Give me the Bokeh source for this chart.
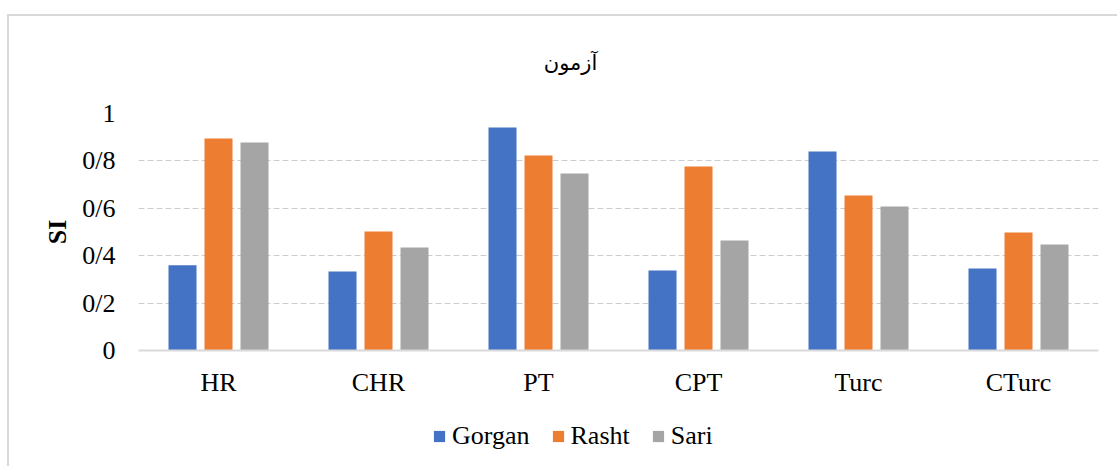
from bokeh.plotting import figure
from bokeh.layouts import column
from bokeh.models import ColumnDataSource, FactorRange, Range1d, Legend, LegendItem, Label, FixedTicker, CustomJSTickFormatter
from bokeh.transform import dodge
from bokeh.embed import file_html
from bokeh.resources import INLINE

categories = ["HR", "CHR", "PT", "CPT", "Turc", "CTurc"]
gorgan = [0.36, 0.333, 0.941, 0.338, 0.84, 0.346]
rasht = [0.895, 0.502, 0.823, 0.776, 0.654, 0.498]
sari = [0.878, 0.435, 0.747, 0.464, 0.608, 0.447]
series_names = ["Gorgan", "Rasht", "Sari"]
colors = ["#4472C4", "#ED7D31", "#A5A5A5"]
y_ticks = [0, 0.2, 0.4, 0.6, 0.8, 1]
title_text = "آزمون"
y_label = "SI"


def strip(height):
    f = figure(width=1108, height=height, output_backend="svg", toolbar_location=None,
               x_range=Range1d(0, 1), y_range=Range1d(0, 1),
               min_border_left=0, min_border_right=0, min_border_top=0, min_border_bottom=0)
    f.axis.visible = False
    f.grid.visible = False
    f.outline_line_color = None
    f.background_fill_color = "white"
    f.border_fill_color = "white"
    return f


# title strip
tp = strip(77)
tp.add_layout(Label(x=0.45, y=0.40, text=title_text, text_font="DejaVu Sans",
                    text_font_size="21px", text_color="black", text_align="center",
                    text_baseline="middle"))

# main chart
src = ColumnDataSource(dict(cat=categories, Gorgan=gorgan, Rasht=rasht, Sari=sari))
p = figure(x_range=FactorRange(*categories, range_padding=0), y_range=Range1d(0, 1),
           width=1108, height=323, output_backend="svg", toolbar_location=None,
           min_border_left=129, min_border_right=19, min_border_top=20, min_border_bottom=66)
p.outline_line_color = None
p.background_fill_color = "white"
p.border_fill_color = "white"

offsets = [-0.225, 0.0, 0.225]
for name, col, off in zip(series_names, colors, offsets):
    p.vbar(x=dodge("cat", off, range=p.x_range), top=name, width=0.175, source=src,
           fill_color=col, line_color=None)

p.xaxis.axis_line_color = "#d9d9d9"
p.xaxis.axis_line_width = 2
p.xaxis.major_tick_line_color = None
p.xaxis.minor_tick_line_color = None
p.xaxis.major_label_text_font = "Liberation Serif"
p.xaxis.major_label_text_font_size = "26px"
p.xaxis.major_label_text_color = "black"
p.xaxis.major_label_standoff = 11

p.yaxis.axis_line_color = None
p.yaxis.major_tick_line_color = None
p.yaxis.minor_tick_line_color = None
p.yaxis.ticker = FixedTicker(ticks=y_ticks)
p.yaxis.formatter = CustomJSTickFormatter(code="return (Math.round(tick*10)/10).toString().replace('.', '/');")
p.yaxis.major_label_text_font = "Liberation Serif"
p.yaxis.major_label_text_font_size = "26px"
p.yaxis.major_label_text_color = "black"
p.yaxis.major_label_standoff = 17
p.yaxis.axis_label = y_label
p.yaxis.axis_label_text_font = "Liberation Serif"
p.yaxis.axis_label_text_font_size = "26px"
p.yaxis.axis_label_text_font_style = "bold"
p.yaxis.axis_label_text_color = "black"
p.yaxis.axis_label_standoff = 7

p.xgrid.grid_line_color = None
p.ygrid.grid_line_color = "#cccccc"
p.ygrid.grid_line_dash = "6 3"
p.ygrid.grid_line_width = 1.2

# legend strip
lg = strip(50)
items = []
for name, col in zip(series_names, colors):
    r = lg.vbar(x=[0], top=[0], bottom=[0], width=0.001, fill_color=col, line_color=None)
    items.append(LegendItem(label=name, renderers=[r]))
legend = Legend(items=items, orientation="horizontal", location=(294, 15),
                label_text_font="Liberation Serif", label_text_font_size="26px",
                label_text_color="black",
                glyph_width=14, glyph_height=14, spacing=21, padding=0, margin=0,
                label_standoff=6, border_line_color=None, background_fill_alpha=0)
lg.add_layout(legend, "center")

layout = column(tp, p, lg, spacing=0)
layout.styles = {"margin-left": "7px", "margin-top": "14px",
                 "border-left": "2px solid #d9d9d9", "border-top": "2px solid #d9d9d9"}

open("out.html", "w").write(file_html(layout, INLINE))
